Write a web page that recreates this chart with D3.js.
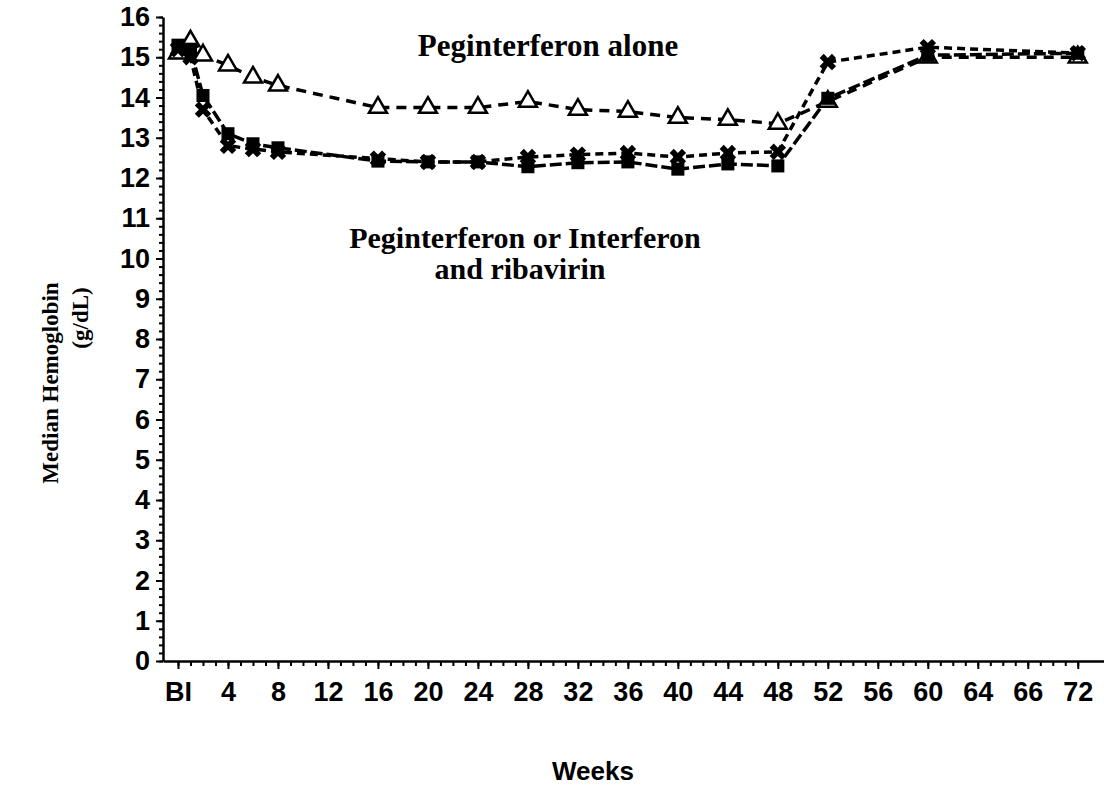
<!DOCTYPE html>
<html>
<head>
<meta charset="utf-8">
<script src="https://cdn.jsdelivr.net/npm/d3@7"></script>
<style>
  body { margin: 0; background: #fff; }
  svg { display: block; }
</style>
</head>
<body>
<svg width="1104" height="787"></svg>
<script>
// weeks on study, BI = baseline
const weeks = [0, 1, 2, 4, 6, 8, 16, 20, 24, 28, 32, 36, 40, 44, 48, 52, 60, 72];
const pegAlone = [15.1, 15.4, 15.05, 14.8, 14.5, 14.3, 13.75, 13.75, 13.75, 13.9, 13.7, 13.65, 13.5, 13.45, 13.35, 13.9, 15.0, 15.0];
const comboSquare = [15.3, 15.2, 14.05, 13.1, 12.85, 12.75, 12.42, 12.4, 12.4, 12.28, 12.38, 12.4, 12.22, 12.35, 12.3, 13.98, 15.05, 15.1];
const comboCross = [15.2, 15.0, 13.7, 12.8, 12.72, 12.65, 12.48, 12.4, 12.4, 12.52, 12.58, 12.62, 12.52, 12.62, 12.65, 14.88, 15.25, 15.1];

const xTicks = [0, 4, 8, 12, 16, 20, 24, 28, 32, 36, 40, 44, 48, 52, 56, 60, 64, 68, 72];
const xTickLabels = ['BI', '4', '8', '12', '16', '20', '24', '28', '32', '36', '40', '44', '48', '52', '56', '60', '64', '66', '72'];
const yTicks = d3.range(0, 17);

const svg = d3.select('svg');

const x = d3.scaleLinear().domain([-1.2, 74.1]).range([163, 1104]);
const y = d3.scaleLinear().domain([0, 16]).range([661, 17]);

const sans = '"Liberation Sans", Arial, sans-serif';
const serif = '"Liberation Serif", "Times New Roman", serif';

// minor ticks
svg.append('g')
        .attr('transform', 'translate(163,0)')
        .call(d3.axisLeft(y).tickValues(d3.range(0, 16.01, 0.2)).tickSize(4).tickFormat(''))
        .call(g => g.select('.domain').remove());
svg.append('g')
        .attr('transform', 'translate(0,661)')
        .call(d3.axisBottom(x).tickValues(d3.range(0, 73)).tickSize(5).tickFormat(''))
        .call(g => g.select('.domain').remove());

const yAxis = svg.append('g')
        .attr('transform', 'translate(163,0)')
        .call(d3.axisLeft(y).tickValues(yTicks).tickSize(7).tickPadding(6).tickSizeOuter(0));
const xAxis = svg.append('g')
        .attr('transform', 'translate(0,661)')
        .call(d3.axisBottom(x).tickValues(xTicks).tickSize(8).tickPadding(13).tickSizeOuter(0)
                .tickFormat((d, i) => xTickLabels[i]));

svg.selectAll('.tick line').attr('stroke', '#000').attr('stroke-width', 2);
svg.selectAll('.domain').attr('stroke', '#000').attr('stroke-width', 2.5);
svg.selectAll('.tick text')
        .attr('font-family', sans)
        .attr('font-weight', 'bold')
        .attr('font-size', 27)
        .attr('fill', '#000');

const line = vals => d3.line()
        .x((d, i) => x(weeks[i]))
        .y(d => y(d))(vals);

svg.append('path')
        .attr('d', line(pegAlone))
        .attr('fill', 'none').attr('stroke', '#000').attr('stroke-width', 3.5)
        .attr('stroke-dasharray', '10,7');
svg.append('path')
        .attr('d', line(comboSquare))
        .attr('fill', 'none').attr('stroke', '#000').attr('stroke-width', 3.5)
        .attr('stroke-dasharray', '12,4');
svg.append('path')
        .attr('d', line(comboCross))
        .attr('fill', 'none').attr('stroke', '#000').attr('stroke-width', 3.5)
        .attr('stroke-dasharray', '8,5');

svg.selectAll('.tri')
        .data(pegAlone)
        .enter().append('path')
        .attr('transform', (d, i) => `translate(${x(weeks[i])},${y(d)})`)
        .attr('d', d3.symbol(d3.symbolTriangle, 140)())
        .attr('fill', '#fff')
        .attr('stroke', '#000')
        .attr('stroke-width', 2.5);

svg.selectAll('.sq')
        .data(comboSquare)
        .enter().append('path')
        .attr('transform', (d, i) => `translate(${x(weeks[i])},${y(d)})`)
        .attr('d', d3.symbol(d3.symbolSquare, 170)())
        .attr('fill', '#000');

svg.selectAll('.cx')
        .data(comboCross)
        .enter().append('path')
        .attr('transform', (d, i) => `translate(${x(weeks[i])},${y(d)}) rotate(45)`)
        .attr('d', d3.symbol(d3.symbolCross, 170)())
        .attr('fill', '#000');

// annotations
svg.append('text')
        .attr('x', 548).attr('y', 56)
        .attr('text-anchor', 'middle')
        .attr('font-family', serif).attr('font-weight', 'bold').attr('font-size', 31)
        .text('Peginterferon alone');
svg.append('text')
        .attr('x', 525).attr('y', 248)
        .attr('text-anchor', 'middle')
        .attr('font-family', serif).attr('font-weight', 'bold').attr('font-size', 30)
        .text('Peginterferon or Interferon');
svg.append('text')
        .attr('x', 520).attr('y', 279)
        .attr('text-anchor', 'middle')
        .attr('font-family', serif).attr('font-weight', 'bold').attr('font-size', 30)
        .text('and ribavirin');

svg.append('text')
        .attr('transform', 'translate(58,383) rotate(-90)')
        .attr('text-anchor', 'middle')
        .attr('font-family', serif).attr('font-weight', 'bold').attr('font-size', 23)
        .text('Median Hemoglobin');
svg.append('text')
        .attr('transform', 'translate(88,318) rotate(-90)')
        .attr('text-anchor', 'middle')
        .attr('font-family', serif).attr('font-weight', 'bold').attr('font-size', 23)
        .text('(g/dL)');

svg.append('text')
        .attr('x', 593).attr('y', 780)
        .attr('text-anchor', 'middle')
        .attr('font-family', sans).attr('font-weight', 'bold').attr('font-size', 26)
        .text('Weeks');
</script>
</body>
</html>
